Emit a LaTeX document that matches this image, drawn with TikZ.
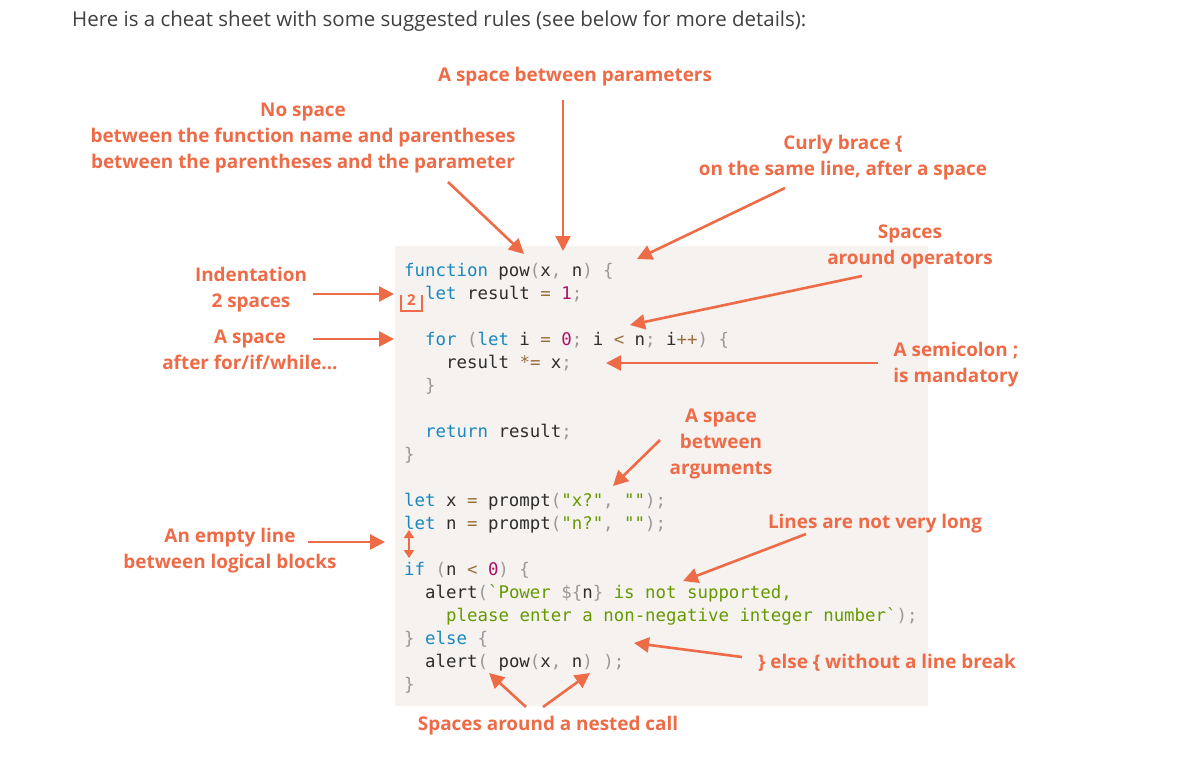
\documentclass[tikz,border=0pt]{standalone}
\usepackage{fontspec}
\setmainfont{Open Sans}
\setmonofont{DejaVu Sans Mono}
\usetikzlibrary{arrows.meta}
\definecolor{note}{HTML}{EE6B47}
\definecolor{codebg}{HTML}{F5F2F0}
\definecolor{codetx}{HTML}{2D2D2D}
\definecolor{kwblue}{HTML}{1A88BE}
\definecolor{punct}{HTML}{999999}
\definecolor{oper}{HTML}{9A6E3A}
\definecolor{numc}{HTML}{AA1166}
\definecolor{strc}{HTML}{669900}
\newcommand\kw[1]{\textcolor{kwblue}{#1}}
\newcommand\pu[1]{\textcolor{punct}{#1}}
\newcommand\op[1]{\textcolor{oper}{#1}}
\newcommand\nm[1]{\textcolor{numc}{#1}}
\newcommand\st[1]{\textcolor{strc}{#1}}

\begin{document}
\begin{tikzpicture}[
        x=1pt,y=-1pt
        ,code/.style={anchor=base west,inner sep=0pt,text=codetx,font=\ttfamily\fontsize{17.4}{23}\selectfont}
        ,note/.style={anchor=base,align=center,inner sep=0pt,text=note,font=\bfseries\fontsize{18.9}{26}\selectfont}
        ,arr/.style={draw=note,line width=2.6pt,-{Triangle[length=15pt,width=15pt]}}
    ]
    \useasboundingbox (0,0) rectangle (1196,769);
    % Заголовок
    \node[anchor=base west,inner sep=0pt,text=black!75,font=\fontsize{20.5}{24}\selectfont] (title) at (72,26)
        {Here is a cheat sheet with some suggested rules (see below for more details):};
    % Фон кода
    \fill[codebg] (395,246) rectangle (928,706);
    % Строки кода (шаг 23, отступ 21)
    \node[code] (l1)  at (404,276) {\kw{function} pow\pu{(}x\pu{,} n\pu{)} \pu{\{}};
    \node[code] (l2)  at (425,299) {\kw{let} result \op{=} \nm{1}\pu{;}};
    \node[code] (l4)  at (425,345) {\kw{for} \pu{(}\kw{let} i \op{=} \nm{0}\pu{;} i \op{<} n\pu{;} i\op{++}\pu{)} \pu{\{}};
    \node[code] (l5)  at (446,368) {result \op{*=} x\pu{;}};
    \node[code] (l6)  at (425,391) {\pu{\}}};
    \node[code] (l8)  at (425,437) {\kw{return} result\pu{;}};
    \node[code] (l9)  at (404,460) {\pu{\}}};
    \node[code] (l11) at (404,506) {\kw{let} x \op{=} prompt\pu{(}\st{"x?"}\pu{,} \st{""}\pu{);}};
    \node[code] (l12) at (404,529) {\kw{let} n \op{=} prompt\pu{(}\st{"n?"}\pu{,} \st{""}\pu{);}};
    \node[code] (l14) at (404,575) {\kw{if} \pu{(}n \op{<} \nm{0}\pu{)} \pu{\{}};
    \node[code] (l15) at (425,598) {alert\pu{(}\st{`Power }\pu{\$\{}n\pu{\}} \st{is not supported,}};
    \node[code] (l16) at (446,621) {\st{please enter a non-negative integer number`}\pu{);}};
    \node[code] (l17) at (404,644) {\pu{\}} \kw{else} \pu{\{}};
    \node[code] (l18) at (425,667) {alert\pu{(} pow\pu{(}x\pu{,} n\pu{)} \pu{);}};
    \node[code] (l19) at (404,690) {\pu{\}}};
    % Отступ 2 и пустая строка
    \draw[draw=note,line width=2pt] (401,295) -- (401,311) -- (422,311) -- (422,295);
    \node[inner sep=0pt,text=note,font=\bfseries\fontsize{15}{15}\selectfont] (two) at (411.5,300) {2};
    \coordinate (gapA) at (409,530);
    \coordinate (gapB) at (409,558);
    \draw[draw=note,line width=2pt,{Triangle[length=8pt,width=10pt]}-{Triangle[length=8pt,width=10pt]}] (gapA) -- (gapB);
    % Подписи (base = последняя строка)
    \node[note] (params) at (575,81) {A space between parameters};
    \node[note] (nospace) at (303,168) {No space\\between the function name and parentheses\\between the parentheses and the parameter};
    \node[note] (brace) at (843,175) {Curly brace \{\\on the same line, after a space};
    \node[note] (ops) at (910,264) {Spaces\\around operators};
    \node[note] (indent) at (251,307) {Indentation\\2 spaces};
    \node[note] (forif) at (250,369) {A space\\after for/if/while...};
    \node[note] (semi) at (956,382) {A semicolon ;\\is mandatory};
    \node[note] (args) at (721,474) {A space\\between\\arguments};
    \node[note] (long) at (875,528) {Lines are not very long};
    \node[note] (empty) at (230,568) {An empty line\\between logical blocks};
    \node[note] (elsebr) at (887,668) {\} else \{ without a line break};
    \node[note] (nested) at (548,730) {Spaces around a nested call};
    % Концы стрелок
    \coordinate (paramsS) at (563,100);   \coordinate (paramsT) at (563,251);
    \coordinate (nospaceS) at (448,182);  \coordinate (nospaceT) at (524,254);
    \coordinate (braceS) at (785,188);    \coordinate (braceT) at (637,259);
    \coordinate (opsS) at (862,276);      \coordinate (opsT) at (630,325);
    \coordinate (indentS) at (313,294);   \coordinate (indentT) at (394,294);
    \coordinate (forifS) at (313,339);    \coordinate (forifT) at (394,339);
    \coordinate (semiS) at (878,363);     \coordinate (semiT) at (606,363);
    \coordinate (argsS) at (660,440);     \coordinate (argsT) at (613,486);
    \coordinate (longS) at (806,534);     \coordinate (longT) at (683,581);
    \coordinate (emptyS) at (308,542);    \coordinate (emptyT) at (385,542);
    \coordinate (elsebrS) at (742,657);   \coordinate (elsebrT) at (634,643);
    \coordinate (nestedA) at (526,707);   \coordinate (nestedAT) at (489,673);
    \coordinate (nestedB) at (543,707);   \coordinate (nestedBT) at (590,673);
    % Стрелки
    \draw[arr] (paramsS) -- (paramsT);
    \draw[arr] (nospaceS) -- (nospaceT);
    \draw[arr] (braceS) -- (braceT);
    \draw[arr] (opsS) -- (opsT);
    \draw[arr] (indentS) -- (indentT);
    \draw[arr] (forifS) -- (forifT);
    \draw[arr] (semiS) -- (semiT);
    \draw[arr] (argsS) -- (argsT);
    \draw[arr] (longS) -- (longT);
    \draw[arr] (emptyS) -- (emptyT);
    \draw[arr] (elsebrS) -- (elsebrT);
    \draw[arr] (nestedA) -- (nestedAT);
    \draw[arr] (nestedB) -- (nestedBT);
\end{tikzpicture}
\end{document}
